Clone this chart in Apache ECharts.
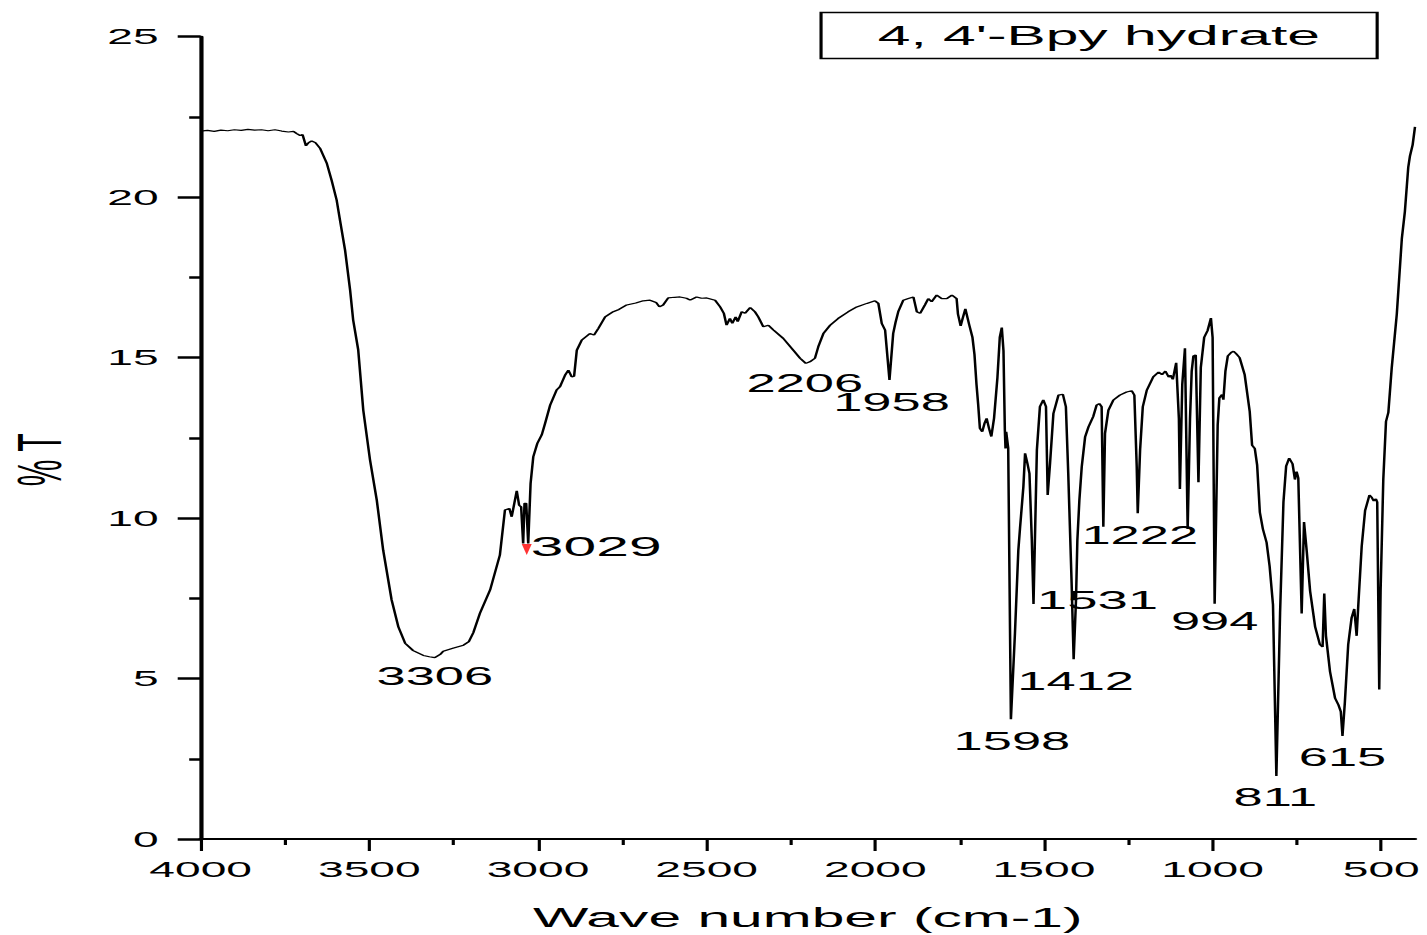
<!DOCTYPE html>
<html>
<head>
<meta charset="utf-8">
<title>4, 4'-Bpy hydrate IR spectrum</title>
<script src="https://cdn.jsdelivr.net/npm/echarts@6.0.0/dist/echarts.min.js"></script>
<style>
  html, body { margin: 0; padding: 0; background: #fff; overflow: hidden; }
  #wrap { width: 1427px; height: 935px; overflow: hidden; background: #fff; }
  /* the drawing surface is laid out narrow and widened, giving the broad lettering */
  #chart { width: 680px; height: 935px; transform: scaleX(2.098529); transform-origin: 0 0; }
</style>
</head>
<body>
<div id="wrap"><div id="chart"></div></div>
<script>
// ---- spectrum: wavenumber (cm-1) and transmittance (%T) ----
const wavenumber = [
  4000, 3980, 3960, 3940, 3920, 3900, 3880, 3860, 3840, 3820,
  3800, 3780, 3760, 3740, 3725, 3715, 3705, 3698, 3688, 3680,
  3671, 3660, 3646, 3626, 3612, 3597, 3587, 3572, 3557, 3548,
  3533, 3518, 3498, 3478, 3459, 3434, 3414, 3394, 3370, 3340,
  3322, 3306, 3290, 3281, 3250, 3221, 3205, 3192, 3172, 3142,
  3113, 3098, 3085, 3078, 3063, 3056, 3050, 3044, 3040, 3035,
  3029, 3022, 3014, 3002, 2989, 2979, 2964, 2945, 2935, 2920,
  2910, 2900, 2893, 2885, 2870, 2846, 2834, 2821, 2801, 2777,
  2760, 2737, 2710, 2688, 2668, 2650, 2640, 2629, 2614, 2595,
  2579, 2560, 2549, 2530, 2515, 2500, 2475, 2460, 2449, 2441,
  2431, 2424, 2414, 2408, 2396, 2386, 2371, 2357, 2347, 2332,
  2317, 2302, 2273, 2243, 2223, 2206, 2194, 2179, 2169, 2154,
  2134, 2110, 2080, 2055, 2025, 2001, 1991, 1981, 1971, 1958,
  1947, 1940, 1932, 1917, 1902, 1887, 1877, 1867, 1853, 1843,
  1833, 1818, 1803, 1788, 1773, 1759, 1755, 1747, 1740, 1733,
  1722, 1712, 1706, 1700, 1695, 1690, 1683, 1676, 1670, 1663,
  1656, 1648, 1638, 1631, 1625, 1620, 1616, 1614, 1612, 1606,
  1598, 1586, 1576, 1571, 1561, 1556, 1549, 1543, 1536, 1531,
  1521, 1512, 1502, 1494, 1489, 1482, 1472, 1457, 1444, 1435,
  1428, 1418, 1412, 1405, 1401, 1395, 1388, 1378, 1368, 1354,
  1344, 1336, 1329, 1324, 1319, 1309, 1294, 1275, 1255, 1240,
  1232, 1225, 1222, 1215, 1207, 1195, 1176, 1160, 1150, 1140,
  1130, 1125, 1118, 1108, 1100, 1097, 1090, 1082, 1074, 1067,
  1062, 1057, 1050, 1042, 1035, 1025, 1015, 1005, 1000, 994,
  985, 980, 972, 968, 962, 955, 945, 938, 930, 920,
  905, 890, 883, 875, 868, 860, 851, 840, 831, 821,
  811, 800, 790, 782, 773, 763, 756, 751, 746, 736,
  729, 721, 711, 696, 682, 674, 669, 664, 652, 637,
  627, 620, 615, 608, 598, 588, 580, 573, 568, 558,
  548, 535, 528, 522, 516, 512, 506, 502, 494, 486,
  479, 469, 454, 439, 430, 420, 415, 407, 400
];

const transmittance = [
  22.06, 22.08, 22.05, 22.09, 22.07, 22.10, 22.08, 22.11, 22.09, 22.10,
  22.07, 22.10, 22.06, 22.03, 22.05, 21.98, 21.92, 21.95, 21.60, 21.70,
  21.75, 21.70, 21.52, 21.05, 20.53, 19.91, 19.28, 18.35, 17.10, 16.17,
  15.24, 13.36, 11.81, 10.56, 9.00, 7.45, 6.61, 6.10, 5.87, 5.72,
  5.68, 5.65, 5.75, 5.85, 5.95, 6.04, 6.15, 6.42, 7.04, 7.76,
  8.85, 10.25, 10.30, 10.04, 10.85, 10.40, 10.35, 9.21, 10.46, 10.46,
  9.21, 11.08, 11.91, 12.33, 12.59, 12.95, 13.52, 13.99, 14.09, 14.45,
  14.61, 14.40, 14.42, 15.23, 15.55, 15.75, 15.70, 15.91, 16.27, 16.43,
  16.50, 16.64, 16.70, 16.77, 16.79, 16.72, 16.58, 16.64, 16.86, 16.88,
  16.89, 16.85, 16.79, 16.89, 16.85, 16.86, 16.79, 16.58, 16.38, 16.01,
  16.22, 16.07, 16.27, 16.12, 16.43, 16.38, 16.56, 16.43, 16.27, 15.96,
  16.01, 15.86, 15.60, 15.23, 14.98, 14.82, 14.87, 14.98, 15.34, 15.75,
  16.01, 16.22, 16.43, 16.58, 16.69, 16.77, 16.69, 16.07, 15.86, 14.30,
  15.75, 16.10, 16.43, 16.79, 16.84, 16.89, 16.43, 16.38, 16.64, 16.84,
  16.74, 16.95, 16.84, 16.84, 16.95, 16.84, 16.36, 15.99, 16.26, 16.52,
  16.04, 15.63, 15.10, 14.16, 13.53, 12.80, 12.69, 12.96, 13.11, 12.80,
  12.54, 13.11, 14.37, 15.63, 15.94, 15.21, 12.75, 12.17, 12.69, 12.18,
  3.73, 6.41, 9.00, 9.68, 10.98, 12.02, 11.70, 11.39, 9.31, 7.32,
  12.12, 13.47, 13.68, 13.47, 10.72, 11.70, 13.26, 13.83, 13.86, 13.47,
  11.39, 7.97, 5.60, 7.45, 9.31, 10.56, 11.60, 12.53, 12.84, 13.16,
  13.52, 13.57, 13.47, 9.73, 12.64, 13.36, 13.68, 13.83, 13.93, 13.97,
  13.83, 11.60, 10.15, 12.12, 13.47, 13.99, 14.40, 14.55, 14.47, 14.58,
  14.39, 14.45, 14.32, 14.84, 13.10, 10.91, 14.16, 15.29, 9.66, 13.10,
  14.58, 15.05, 15.08, 11.12, 14.69, 15.63, 15.84, 16.23, 15.63, 7.33,
  12.90, 13.74, 13.85, 13.69, 14.58, 15.05, 15.16, 15.20, 15.12, 15.00,
  14.47, 13.32, 12.27, 12.17, 11.65, 10.18, 9.66, 9.24, 8.50, 7.30,
  1.96, 7.04, 10.50, 11.62, 11.87, 11.69, 11.20, 11.45, 11.25, 7.03,
  9.88, 8.97, 7.73, 6.61, 6.06, 5.98, 7.65, 6.33, 5.22, 4.39,
  4.18, 3.97, 3.21, 4.25, 6.06, 6.89, 7.17, 6.33, 7.31, 9.12,
  10.23, 10.72, 10.64, 10.53, 10.60, 10.50, 4.66, 7.73, 11.20, 13.01,
  13.29, 14.68, 16.35, 18.71, 19.55, 20.93, 21.28, 21.63, 22.19
];

// annotated band positions (cm-1)
const peakLabels = [3306, 3029, 2206, 1958, 1598, 1531, 1412, 1222, 994, 811, 615];
// band flagged with the red arrowhead
const markedPeak = 3029;

// axis ticks
const xMajorTicks = [4000, 3500, 3000, 2500, 2000, 1500, 1000, 500];
const xMinorTicks = [3750, 3250, 2750, 2250, 1750, 1250, 750];

const titleText = "4, 4'-Bpy hydrate";
const xName = 'Wave number (cm-1)';
const yName = '% T';

// ---- layout / styling ----
const STRETCH = 1427 / 680;          // horizontal widening of the drawing surface
const sx = v => v / STRETCH;         // page px -> surface px (horizontal only)
const FONT = "'Liberation Sans', Arial, Helvetica, sans-serif";

// where each band number sits relative to the band minimum (page px)
const peakLabelStyle = {
  3306: { dx: 0,   dy: 19 },
  3029: { dx: 68,  dy: 3, size: 28 },
  2206: { dx: -1,  dy: 20 },
  1958: { dx: 2,   dy: 22 },
  1598: { dx: 1,   dy: 22 },
  1531: { dx: 64,  dy: -4, size: 26 },
  1412: { dx: 2,   dy: 22 },
  1222: { dx: 2,   dy: 22 },
  994:  { dx: 0,   dy: 18 },
  811:  { dx: -1,  dy: 21 },
  615:  { dx: 0,   dy: 21 }
};

const spectrum = wavenumber.map((w, i) => [w, transmittance[i]]);
const tAt = w => transmittance[wavenumber.indexOf(w)];

const chart = echarts.init(document.getElementById('chart'), null, {
  renderer: 'svg', width: 680, height: 935
});

const option = {
  animation: false,
  backgroundColor: '#fff',
  title: {
    text: titleText,
    left: sx(820),
    top: 12,
    padding: [9.5, 27.5],
    borderColor: '#000',
    borderWidth: 1.5,
    textStyle: { fontFamily: FONT, fontSize: 28, fontWeight: 'normal', color: '#000', lineHeight: 28 }
  },
  grid: {
    left: sx(200.7),
    right: 680 - sx(1415),
    top: 36.7,
    bottom: 935 - 839,
    containLabel: false,
    outerBoundsMode: 'none'
  },
  xAxis: [
    {
      type: 'value',
      min: 400,
      max: 4000,
      inverse: true,
      position: 'bottom',
      name: xName,
      nameLocation: 'middle',
      nameGap: 64,
      nameMoveOverlap: false,
      nameTextStyle: { fontFamily: FONT, fontSize: 28, color: '#000' },
      axisLine: { show: true, onZero: false, lineStyle: { color: '#000', width: 2.2 } },
      axisTick: { show: true, inside: false, length: 12, customValues: xMajorTicks,
                  lineStyle: { color: '#000', width: 1.5 } },
      axisLabel: { show: true, margin: 19, customValues: xMajorTicks,
                   fontFamily: FONT, fontSize: 22, color: '#000',
                   formatter: v => String(v) },
      splitLine: { show: false },
      minorTick: { show: false }
    },
    {
      // short ticks half-way between the labelled ones
      type: 'value',
      min: 400,
      max: 4000,
      inverse: true,
      position: 'bottom',
      axisLine: { show: false, onZero: false },
      axisTick: { show: true, inside: false, length: 6, customValues: xMinorTicks,
                  lineStyle: { color: '#000', width: 1.5 } },
      axisLabel: { show: false },
      splitLine: { show: false }
    }
  ],
  yAxis: {
    type: 'value',
    min: 0,
    max: 25,
    interval: 5,
    name: yName,
    nameLocation: 'middle',
    nameGap: 62,
    nameMoveOverlap: false,
    nameTextStyle: { fontFamily: FONT, fontSize: 30, color: '#000', padding: [0, 44, 0, 0] },
    axisLine: { show: true, onZero: false, lineStyle: { color: '#000', width: 2 } },
    axisTick: { show: true, inside: false, length: sx(23), lineStyle: { color: '#000', width: 2.5 } },
    minorTick: { show: true, splitNumber: 2, length: sx(11.5), lineStyle: { color: '#000', width: 2.5 } },
    axisLabel: { margin: sx(42), fontFamily: FONT, fontSize: 22, color: '#000' },
    splitLine: { show: false },
    minorSplitLine: { show: false }
  },
  series: [
    {
      name: titleText,
      type: 'line',
      xAxisIndex: 0,
      data: spectrum,
      symbol: 'none',
      showSymbol: false,
      smooth: false,
      silent: true,
      lineStyle: { color: '#000', width: 1.2 },
      z: 2
    },
    {
      name: 'marker',
      type: 'scatter',
      xAxisIndex: 0,
      silent: true,
      data: [[markedPeak, tAt(markedPeak)]],
      symbol: 'triangle',
      symbolRotate: 180,
      symbolSize: [sx(10), 11],
      symbolOffset: [sx(-1.5), 6],
      itemStyle: { color: '#ff0000' },
      z: 4
    },
    {
      name: 'bands',
      type: 'scatter',
      xAxisIndex: 0,
      silent: true,
      symbolSize: 0.1,
      itemStyle: { color: '#fff', opacity: 0 },
      data: peakLabels.map(w => {
        const st = peakLabelStyle[w] || {};
        return {
          value: [w, tAt(w)],
          label: { offset: [sx(st.dx || 0), st.dy || 0], fontSize: st.size || 25 }
        };
      }),
      label: {
        show: true,
        position: 'inside',
        formatter: p => String(p.value[0]),
        fontFamily: FONT,
        fontSize: 25,
        color: '#000',
        opacity: 1,
        textBorderWidth: 0,
        textBorderColor: 'transparent',
        textShadowBlur: 0
      },
      emphasis: { disabled: true },
      z: 3
    }
  ]
};

chart.setOption(option);
</script>
</body>
</html>
